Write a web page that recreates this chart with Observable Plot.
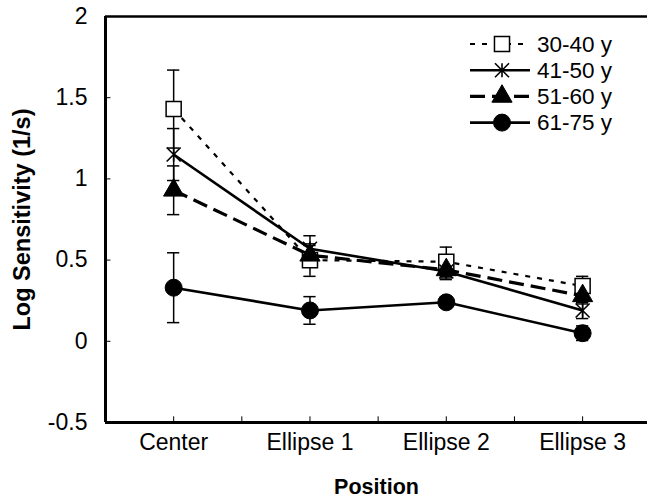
<!DOCTYPE html>
<html>
<head>
<meta charset="utf-8">
<script src="https://cdn.jsdelivr.net/npm/d3@7"></script>
<script src="https://cdn.jsdelivr.net/npm/@observablehq/plot@0.6"></script>
<style>
  body { margin: 0; background: #fff; }
  #wrap { position: relative; width: 647px; height: 500px; font-family: "Liberation Sans", Arial, sans-serif; }
  #legend { position: absolute; left: 0; top: 0; }
</style>
</head>
<body>
<div id="wrap"></div>
<script>
// ---- data ----
const positions = ["Center", "Ellipse 1", "Ellipse 2", "Ellipse 3"];
const groups = ["30-40 y", "41-50 y", "51-60 y", "61-75 y"];
const s3040 = [1.43, 0.50, 0.49, 0.34];
const e3040 = [0.24, 0.10, 0.09, 0.06];
const s4150 = [1.15, 0.57, 0.43, 0.19];
const e4150 = [0.16, 0.08, 0.05, 0.05];
const s5160 = [0.93, 0.53, 0.44, 0.28];
const e5160 = [0.15, 0.06, 0.05, 0.05];
const s6175 = [0.33, 0.19, 0.24, 0.05];
const e6175 = [0.215, 0.085, 0.03, 0.045];
const yTicks = [-0.5, 0, 0.5, 1, 1.5, 2];
const xMinorTicks = [0, 0.5, 1, 1.5, 2, 2.5, 3];

// ---- styles ----
const starSymbol = {
  draw(ctx, size) {
    const r = Math.sqrt(size / Math.PI);
    ctx.moveTo(-r, -r); ctx.lineTo(r, r);
    ctx.moveTo(-r, r); ctx.lineTo(r, -r);
    ctx.moveTo(0, -r); ctx.lineTo(0, r);
  }
};
const values = [s3040, s4150, s5160, s6175];
const errors = [e3040, e4150, e5160, e6175];
const styles = [
  {dash: "5,7", width: 2.2, symbol: "square", fill: "white", stroke: "black", r: 8.5, sw: 1.5},
  {dash: null, width: 2.6, symbol: starSymbol, fill: "none", stroke: "black", r: 7, sw: 1.6},
  {dash: "15,7", width: 3.2, symbol: "triangle", fill: "black", stroke: "black", r: 7.5, sw: 1},
  {dash: null, width: 2.6, symbol: "circle", fill: "black", stroke: "black", r: 8.5, sw: 1}
];

const rows = groups.flatMap((g, gi) => positions.map((p, i) => ({g, gi, i, v: values[gi][i], e: errors[gi][i]})));

const capHalf = 0.045;   // error-bar cap half width (x units)
const tickLenX = 0.04;   // y-axis tick length (x units)
const tickLenY = 0.035;  // x-axis tick length (y units)
const font = "'Liberation Sans', Arial, sans-serif";

const marks = [];
// axis lines
marks.push(Plot.ruleY([2], {x1: -0.5, x2: 3.476, strokeWidth: 2.5}));
marks.push(Plot.ruleY([-0.5], {x1: -0.5, x2: 3.476, strokeWidth: 3}));
marks.push(Plot.ruleX([-0.5], {y1: -0.5, y2: 2, strokeWidth: 3}));
// ticks (inward)
marks.push(Plot.ruleY(yTicks, {y: d => d, x1: -0.5, x2: -0.5 + tickLenX, strokeWidth: 1}));
marks.push(Plot.ruleX(xMinorTicks, {x: d => d, y1: -0.5, y2: -0.5 + tickLenY, strokeWidth: 1}));
// tick labels
marks.push(Plot.axisY({ticks: yTicks, tickSize: 0, tickPadding: 18, label: null, fontSize: 23, tickFormat: d => String(d)}));
marks.push(Plot.axisX({ticks: [0, 1, 2, 3], tickSize: 0, tickPadding: 11, label: null, fontSize: 23, tickFormat: i => positions[i]}));
// axis titles
marks.push(Plot.text(["Log Sensitivity (1/s)"], {frameAnchor: "left", rotate: -90, dx: -83, fontWeight: "bold", fontSize: 23.5, textAnchor: "middle", lineAnchor: "middle"}));
marks.push(Plot.text(["Position"], {frameAnchor: "bottom", dy: 65, fontWeight: "bold", fontSize: 21.5, lineAnchor: "middle"}));

// series lines
groups.forEach((g, gi) => {
  const st = styles[gi];
  marks.push(Plot.line(rows.filter(d => d.gi === gi), {x: "i", y: "v", stroke: "black", strokeWidth: st.width, strokeDasharray: st.dash, strokeLinecap: "butt"}));
});
// error bars
marks.push(Plot.ruleX(rows, {x: "i", y1: d => d.v - d.e, y2: d => d.v + d.e, strokeWidth: 1.5}));
marks.push(Plot.ruleY(rows, {y: d => d.v + d.e, x1: d => d.i - capHalf, x2: d => d.i + capHalf, strokeWidth: 1.5}));
marks.push(Plot.ruleY(rows, {y: d => d.v - d.e, x1: d => d.i - capHalf, x2: d => d.i + capHalf, strokeWidth: 1.5}));
// markers
groups.forEach((g, gi) => {
  const st = styles[gi];
  marks.push(Plot.dot(rows.filter(d => d.gi === gi), {x: "i", y: "v", symbol: () => st.symbol, r: st.r, fill: st.fill, stroke: st.stroke, strokeWidth: st.sw}));
});

const chart = Plot.plot({
  width: 647,
  height: 500,
  marginLeft: 105,
  marginRight: 0,
  marginTop: 16,
  marginBottom: 78,
  style: {fontFamily: font, fontSize: "21px", color: "black", background: "white"},
  x: {type: "linear", domain: [-0.5, 3.476], axis: null},
  y: {domain: [-0.5, 2], axis: null},
  symbol: {type: "identity"},
  marks
});
document.getElementById("wrap").appendChild(chart);

// ---- legend (inside plot, top right) ----
const lg = d3.select("#wrap").append("svg").attr("id", "legend").attr("width", 647).attr("height", 160);
groups.forEach((g, gi) => {
  const st = styles[gi];
  const y = 44 + gi * 26.2;
  lg.append("line").attr("x1", 470).attr("x2", 530).attr("y1", y).attr("y2", y)
    .attr("stroke", "black").attr("stroke-width", st.width).attr("stroke-dasharray", st.dash);
  const sym = d3.symbol(typeof st.symbol === "string" ? {square: d3.symbolSquare, triangle: d3.symbolTriangle, circle: d3.symbolCircle}[st.symbol] : st.symbol, Math.PI * st.r * st.r);
  lg.append("path").attr("d", sym()).attr("transform", `translate(502,${y})`)
    .attr("fill", st.fill).attr("stroke", st.stroke).attr("stroke-width", st.sw);
  lg.append("text").attr("x", 537).attr("y", y).attr("dy", "0.35em")
    .attr("font-size", 22.5).attr("font-family", font).text(g);
});
</script>
</body>
</html>
